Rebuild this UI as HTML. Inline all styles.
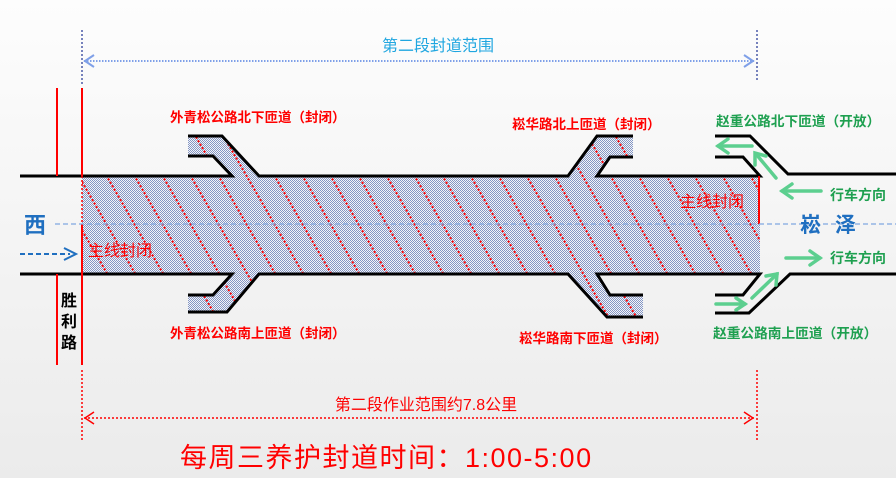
<!DOCTYPE html>
<html><head><meta charset="utf-8"><style>
html,body{margin:0;padding:0;width:896px;height:478px;overflow:hidden;}
body{background:linear-gradient(#fdfdfd,#ebebeb);}
svg{display:block;font-family:"Liberation Sans","Noto Sans CJK SC",sans-serif;}
</style></head><body>
<svg width="896" height="478" viewBox="0 0 896 478" xmlns="http://www.w3.org/2000/svg">
<defs>
<pattern id="chk" width="2" height="2" patternUnits="userSpaceOnUse">
<rect width="2" height="2" fill="#f4f5f8"/>
<rect width="1" height="1" fill="#8496c4"/>
<rect x="1" y="1" width="1" height="1" fill="#8496c4"/>
</pattern>
<clipPath id="cp"><path d="M82,176 L232,176 L213,156 L188,156 L188,136 L222,136 L259,176 L568,176 L597,136 L633,136 L633,157 L610,157 L597,176 L760,176 L760,274 L597,274 L610,295 L643,295 L643,317 L607,317 L568,274 L259,274 L227,312 L188,312 L188,295 L213,295 L232,274 L82,274 Z"/></clipPath>
</defs>
<path d="M82,176 L232,176 L213,156 L188,156 L188,136 L222,136 L259,176 L568,176 L597,136 L633,136 L633,157 L610,157 L597,176 L760,176 L760,274 L597,274 L610,295 L643,295 L643,317 L607,317 L568,274 L259,274 L227,312 L188,312 L188,295 L213,295 L232,274 L82,274 Z" fill="url(#chk)"/>
<g clip-path="url(#cp)" stroke="#ff0000" stroke-width="2" stroke-dasharray="2,2">
<line x1="-60" y1="130" x2="50" y2="320"/><line x1="-32" y1="130" x2="78" y2="320"/><line x1="-4" y1="130" x2="106" y2="320"/><line x1="24" y1="130" x2="134" y2="320"/><line x1="52" y1="130" x2="162" y2="320"/><line x1="80" y1="130" x2="190" y2="320"/><line x1="108" y1="130" x2="218" y2="320"/><line x1="136" y1="130" x2="246" y2="320"/><line x1="164" y1="130" x2="274" y2="320"/><line x1="192" y1="130" x2="302" y2="320"/><line x1="220" y1="130" x2="330" y2="320"/><line x1="248" y1="130" x2="358" y2="320"/><line x1="276" y1="130" x2="386" y2="320"/><line x1="304" y1="130" x2="414" y2="320"/><line x1="332" y1="130" x2="442" y2="320"/><line x1="360" y1="130" x2="470" y2="320"/><line x1="388" y1="130" x2="498" y2="320"/><line x1="416" y1="130" x2="526" y2="320"/><line x1="444" y1="130" x2="554" y2="320"/><line x1="472" y1="130" x2="582" y2="320"/><line x1="500" y1="130" x2="610" y2="320"/><line x1="528" y1="130" x2="638" y2="320"/><line x1="556" y1="130" x2="666" y2="320"/><line x1="584" y1="130" x2="694" y2="320"/><line x1="612" y1="130" x2="722" y2="320"/><line x1="640" y1="130" x2="750" y2="320"/><line x1="668" y1="130" x2="778" y2="320"/><line x1="696" y1="130" x2="806" y2="320"/><line x1="724" y1="130" x2="834" y2="320"/>
</g>
<g stroke="#000" stroke-width="3" fill="none">
<polyline points="20,176 232,176 213,156 188,156"/>
<polyline points="188,136 222,136 259,176 568,176 597,136 633,136"/>
<polyline points="633,157 610,157 597,176 760,176 743,157 715,157"/>
<polyline points="715,136 750,136 788,174 896,174"/>
<polyline points="20,274 232,274 213,295 188,295"/>
<polyline points="188,312 227,312 259,274 568,274 607,317 643,317"/>
<polyline points="643,295 610,295 597,274 760,274 743,295 715,295"/>
<polyline points="715,313 749,313 790,274 896,274"/>
</g>
<g stroke="#ff0000" stroke-width="2">
<line x1="57" y1="88" x2="57" y2="176"/><line x1="57" y1="274" x2="57" y2="365"/>
<line x1="82" y1="88" x2="82" y2="176"/><line x1="82" y1="224" x2="82" y2="365"/>
<line x1="759" y1="176" x2="759" y2="224"/>
</g>
<line x1="82" y1="176" x2="82" y2="224" stroke="#ff0000" stroke-width="1.5" stroke-dasharray="2,2"/>
<line x1="55" y1="224" x2="896" y2="224" stroke="#7fa6e0" stroke-width="1.2" stroke-dasharray="5,3"/>
<text x="24" y="233" font-size="22" font-weight="bold" fill="#1f6fc0">西</text>
<line x1="20" y1="254" x2="70" y2="254" stroke="#1f6fc0" stroke-width="2" stroke-dasharray="5,3"/>
<polyline points="64,248 76,254 64,260" fill="none" stroke="#1f6fc0" stroke-width="2"/>
<text x="800" y="232" font-size="21" font-weight="bold" fill="#1f6fc0" letter-spacing="14">崧泽</text>
<g stroke="#4a5aa8" stroke-width="1.5" stroke-dasharray="2,2"><line x1="82" y1="30" x2="82" y2="86"/><line x1="757" y1="30" x2="757" y2="82"/></g>
<line x1="84" y1="61" x2="754" y2="61" stroke="#7fa0e8" stroke-width="2" stroke-dasharray="1.5,1.5"/>
<polyline points="94,55 85,61 94,67" fill="none" stroke="#7fa0e8" stroke-width="2"/>
<polyline points="744,55 753,61 744,67" fill="none" stroke="#7fa0e8" stroke-width="2"/>
<text x="438" y="51" font-size="16" fill="#1fa6e0" text-anchor="middle">第二段封道范围</text>
<g stroke="#ff0000" stroke-width="1.5" stroke-dasharray="2,2"><line x1="82" y1="370" x2="82" y2="440"/><line x1="757" y1="370" x2="757" y2="440"/>
<line x1="84" y1="418" x2="754" y2="418"/></g>
<polyline points="94,412 85,418 94,424" fill="none" stroke="#ff0000" stroke-width="1.5"/>
<polyline points="744,412 753,418 744,424" fill="none" stroke="#ff0000" stroke-width="1.5"/>
<text x="426" y="410" font-size="16" fill="#ff0000" text-anchor="middle">第二段作业范围约7.8公里</text>
<text x="180" y="467" font-size="27" fill="#ff0000" letter-spacing="1.5">每周三养护封道时间：1:00-5:00</text>
<g font-size="13.5" font-weight="bold" fill="#ff0000">
<text x="170" y="122">外青松公路北下匝道（封闭）</text>
<text x="512" y="129">崧华路北上匝道（封闭）</text>
<text x="170" y="338">外青松公路南上匝道（封闭）</text>
<text x="519" y="343">崧华路南下匝道（封闭）</text>
</g>
<g font-size="13.7" font-weight="bold" fill="#1ea050">
<text x="716" y="126">赵重公路北下匝道（开放）</text>
<text x="713" y="338">赵重公路南上匝道（开放）</text>
<text x="830" y="200" font-size="14">行车方向</text>
<text x="830" y="263" font-size="14">行车方向</text>
</g>
<text x="88" y="256" font-size="16" fill="#ff0000">主线封闭</text>
<text x="680" y="207" font-size="16" fill="#ff0000">主线封闭</text>
<text x="61" y="306" font-size="16" font-weight="bold" fill="#000">胜</text>
<text x="61" y="327" font-size="16" font-weight="bold" fill="#000">利</text>
<text x="61" y="348" font-size="16" font-weight="bold" fill="#000">路</text>
<g stroke="#5ccf8f" stroke-width="3.5" fill="none" stroke-linecap="round">
<line x1="752" y1="146" x2="718" y2="146"/><polyline points="728,139 718,146 728,153"/>
<line x1="776" y1="178" x2="756" y2="154"/><polyline points="755,165 755,153 766,156"/>
<line x1="821" y1="191" x2="782" y2="191"/><polyline points="792,184 782,191 792,198"/>
<line x1="786" y1="258" x2="820" y2="258"/><polyline points="810,251 820,258 810,265"/>
<line x1="752" y1="298" x2="777" y2="274"/><polyline points="766,276 777,274 776,285"/>
<line x1="716" y1="304" x2="745" y2="304"/><polyline points="736,298 745,304 736,310"/>
</g>
</svg>
</body></html>
